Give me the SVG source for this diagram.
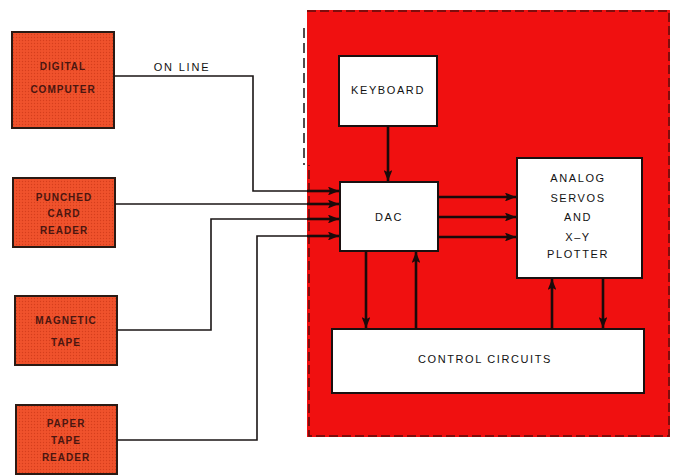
<svg xmlns="http://www.w3.org/2000/svg" width="674" height="476" viewBox="0 0 674 476">
<style>
.src{fill:url(#dots);stroke:#2a1a14;stroke-width:2}
.srct{font-family:"Liberation Sans",Arial,sans-serif;font-size:10px;font-weight:bold;fill:#4a1610;letter-spacing:1px;text-anchor:middle}
.wb{fill:#fff;stroke:#1a1010;stroke-width:2}
.wt{font-family:"Liberation Sans",Arial,sans-serif;font-size:11px;fill:#111;letter-spacing:1.6px;text-anchor:middle}
.ln{fill:none;stroke:#1a1414;stroke-width:1.6}
.ar{fill:none;stroke:#1a0a0a;stroke-width:2.6;marker-end:url(#ah)}
</style>
<defs>
<pattern id="dots" width="3" height="3" patternUnits="userSpaceOnUse">
<rect width="3" height="3" fill="#f0522c"/>
<circle cx="1.5" cy="1.5" r="0.7" fill="#d63e1c"/>
</pattern>
<marker id="ah" viewBox="0 0 10 8" refX="10" refY="4" markerWidth="4.4" markerHeight="3.4" markerUnits="strokeWidth" orient="auto">
<path d="M0,0 L10,4 L0,8 L2,4 Z" fill="#1a0a0a"/>
</marker>
</defs>
<rect width="674" height="476" fill="#fff"/>
<g id="panel">
<rect x="307" y="10" width="363" height="427" fill="#f01010"/>
<path d="M307,11 H669 V436 H309 V165" fill="none" stroke="#5a0c0c" stroke-width="1.5" stroke-dasharray="9,4"/>
<path d="M304,28 V165" fill="none" stroke="#1a1010" stroke-width="1.5" stroke-dasharray="10,5"/>
</g>
<g id="digital-computer">
<rect class="src" x="12" y="32" width="102" height="96"/>
<text class="srct" x="63" y="70">DIGITAL</text>
<text class="srct" x="63" y="93">COMPUTER</text>
</g>
<g id="punched-card-reader">
<rect class="src" x="13" y="178" width="102" height="69"/>
<text class="srct" x="64" y="201">PUNCHED</text>
<text class="srct" x="64" y="217">CARD</text>
<text class="srct" x="64" y="234">READER</text>
</g>
<g id="magnetic-tape">
<rect class="src" x="15" y="296" width="102" height="69"/>
<text class="srct" x="66" y="324">MAGNETIC</text>
<text class="srct" x="66" y="346">TAPE</text>
</g>
<g id="paper-tape-reader">
<rect class="src" x="16" y="405" width="101" height="69"/>
<text class="srct" x="66" y="427">PAPER</text>
<text class="srct" x="66" y="444">TAPE</text>
<text class="srct" x="66" y="461">READER</text>
</g>
<g id="keyboard">
<rect class="wb" x="339" y="56" width="98" height="70"/>
<text class="wt" x="388" y="94">KEYBOARD</text>
</g>
<g id="dac">
<rect class="wb" x="340" y="182" width="98" height="69"/>
<text class="wt" x="389" y="221">DAC</text>
</g>
<g id="analog-servos">
<rect class="wb" x="517" y="158" width="125" height="120"/>
<text class="wt" x="578" y="182">ANALOG</text>
<text class="wt" x="578" y="202">SERVOS</text>
<text class="wt" x="578" y="221">AND</text>
<text class="wt" x="578" y="241">X–Y</text>
<text class="wt" x="578" y="258">PLOTTER</text>
</g>
<g id="control-circuits">
<rect class="wb" x="332" y="329" width="312" height="64"/>
<text class="wt" x="485" y="363">CONTROL CIRCUITS</text>
</g>
<g id="connectors">
<text class="wt" x="182" y="71" style="letter-spacing:1.8px">ON LINE</text>
<path class="ln" d="M114,76 H253 V191 H308"/>
<path class="ln" d="M115,204 H308"/>
<path class="ln" d="M117,330 H211 V219 H308"/>
<path class="ln" d="M117,440 H257 V236 H308"/>
<path class="ar" d="M307,191 H339"/>
<path class="ar" d="M307,204 H339"/>
<path class="ar" d="M307,219 H339"/>
<path class="ar" d="M307,236 H339"/>
<path class="ar" d="M388,126 V181"/>
<path class="ar" d="M438,197 H516"/>
<path class="ar" d="M438,217 H516"/>
<path class="ar" d="M438,237 H516"/>
<path class="ar" d="M366,251 V328"/>
<path class="ar" d="M416,329 V252"/>
<path class="ar" d="M552,329 V279"/>
<path class="ar" d="M603,278 V328"/>
</g>
</svg>
